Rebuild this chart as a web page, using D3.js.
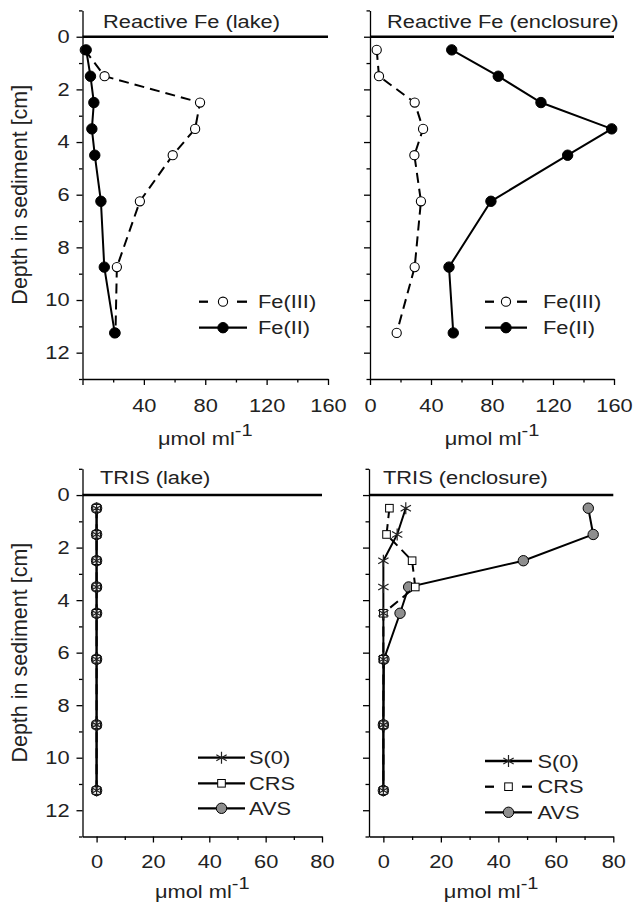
<!DOCTYPE html>
<html>
<head>
<meta charset="utf-8">
<script src="https://cdn.jsdelivr.net/npm/d3@7"></script>
<style>
  body { margin: 0; background: #fff; }
  text { font-family: "Liberation Sans", Arial, sans-serif; fill: #222; }
</style>
</head>
<body>
<svg id="fig" width="635" height="905"></svg>
<script>
// Sample depths (cm) shared by all profiles
var depths = [0.5, 1.5, 2.5, 3.5, 4.5, 6.25, 8.75, 11.25];

// Reactive Fe, umol/ml
var feIIILake = [1.5, 14.4, 76.6, 73.4, 58.8, 37.4, 22.4, 21.5];
var feIILake  = [2.4, 5.2, 7.4, 6.1, 8.0, 12.0, 14.2, 21.0];
var feIIIEncl = [4.4, 5.9, 29.3, 34.8, 29.1, 33.4, 29.3, 17.5];
var feIIEncl  = [53.6, 84.1, 112.1, 158.5, 129.6, 79.3, 51.8, 54.6];

// TRIS extraction, umol/ml
var s0Lake  = [0, 0, 0, 0, 0, 0, 0, 0];
var crsLake = [0, 0, 0, 0, 0, 0, 0, 0];
var avsLake = [0, 0, 0, 0, 0, 0, 0, 0];
var s0Encl  = [7.8, 4.8, 0, 0, 0, 0, 0, 0];
var crsEncl = [2.1, 1.1, 10.0, 11.1, 0, 0, 0, 0];
var avsEncl = [71.3, 73.0, 48.7, 8.8, 5.8, 0.2, 0, 0];

// Axis ticks
var depthTicks = d3.range(-1, 14);
var feTicks = d3.range(0, 161, 20);
var trisTicks = d3.range(0, 81, 10);

var svg = d3.select('#fig');
var SX = 1.18;   // lettering in the original is wider than it is tall
var FS = 18.5;

function hText(parent, x, y, str, anchor) {
    var t = parent.append('text')
        .attr('transform', 'translate(' + x + ',' + y + ') scale(' + SX + ',1)')
        .attr('text-anchor', anchor || 'start')
        .style('font-size', FS + 'px');
    t.text(str);
    return t;
}

function unitLabel(parent, x, y) {
    var t = parent.append('text')
        .attr('transform', 'translate(' + x + ',' + y + ') scale(' + SX + ',1)')
        .attr('text-anchor', 'middle')
        .style('font-size', FS + 'px');
    t.append('tspan').text('\u03bcmol ml');
    t.append('tspan').attr('dy', -9).style('font-size', '17px').text('-1');
}

// Marker drawing
function marker(sel, kind) {
    if (kind === 'open' || kind === 'filled' || kind === 'gray') {
        sel.append('circle')
            .attr('r', kind === 'open' ? 4.6 : 5.2)
            .attr('fill', kind === 'open' ? '#fff' : (kind === 'gray' ? '#8e8e8e' : '#000'))
            .attr('stroke', '#000')
            .attr('stroke-width', kind === 'open' ? 1.1 : 1);
    } else if (kind === 'square') {
        sel.append('rect')
            .attr('x', -3.8).attr('y', -3.8).attr('width', 7.6).attr('height', 7.6)
            .attr('fill', '#fff').attr('stroke', '#000').attr('stroke-width', 1);
    } else if (kind === 'star') {
        sel.append('path')
            .attr('d', d3.symbol().type(d3.symbolAsterisk).size(100)())
            .attr('fill', 'none').attr('stroke', '#222').attr('stroke-width', 1.2);
    }
}

function drawPanel(p) {
    var g = svg.append('g');
    var x = d3.scaleLinear().domain(p.xDomain).range(p.xRange);
    var y = d3.scaleLinear().domain([-1, 13]).range(p.yRange);

    // y axis (depth)
    var ya = g.append('g')
        .attr('transform', 'translate(' + p.xRange[0] + ',0)')
        .call(d3.axisLeft(y).tickValues(depthTicks).tickSize(6).tickSizeOuter(0)
            .tickFormat(function (d) {
                return p.yLabels && d % 2 === 0 && d >= 0 && d <= 12 ? d : '';
            }));
    ya.selectAll('.tick line').attr('x2', function (d) { return d % 2 ? -3.5 : -6; });
    ya.selectAll('.tick text')
        .attr('x', -11)
        .attr('transform', 'scale(' + SX + ',1)')
        .style('font-size', FS + 'px');

    // x axis (concentration)
    var xa = g.append('g')
        .attr('transform', 'translate(0,' + p.yRange[1] + ')')
        .call(d3.axisBottom(x).tickValues(p.xTicks).tickSize(6).tickSizeOuter(0)
            .tickFormat(function (d) { return p.xLabels.indexOf(d) >= 0 ? d : ''; }));
    xa.selectAll('.tick line').attr('y2', function (d) { return d % p.xMajor ? 3.5 : 6; });
    xa.selectAll('.tick text')
        .attr('y', p.tickY).attr('dy', 0)
        .attr('transform', 'scale(' + SX + ',1)')
        .style('font-size', FS + 'px');

    g.selectAll('.domain').attr('stroke-width', 1.3);
    g.selectAll('.tick line').attr('stroke-width', 1.3);

    // sediment surface
    g.append('line')
        .attr('x1', p.xRange[0]).attr('x2', p.xRange[1])
        .attr('y1', y(0)).attr('y2', y(0))
        .attr('stroke', '#000').attr('stroke-width', 2.6);

    // profiles
    p.series.forEach(function (s) {
        var pts = depths.map(function (d, i) { return [s.values[i], d]; });
        g.append('path')
            .datum(pts)
            .attr('fill', 'none')
            .attr('stroke', '#000')
            .attr('stroke-width', 2)
            .attr('stroke-dasharray', s.dash ? '10,6' : null)
            .attr('d', d3.line().x(function (d) { return x(d[0]); }).y(function (d) { return y(d[1]); }));
        var m = g.selectAll(null)
            .data(pts)
            .enter().append('g')
            .attr('transform', function (d) { return 'translate(' + x(d[0]) + ',' + y(d[1]) + ')'; });
        marker(m, s.marker);
    });

    // title and axis labels
    hText(g, p.titleX, p.titleY, p.title);
    unitLabel(g, (p.xRange[0] + p.xRange[1]) / 2, p.unitY);
    if (p.yLabels) {
        g.append('text')
            .attr('transform', 'translate(27,' + (p.yRange[0] + p.yRange[1]) / 2 + ') rotate(-90)')
            .attr('text-anchor', 'middle')
            .style('font-size', '21.5px')
            .text('Depth in sediment [cm]');
    }

    // legend
    var lg = p.legend;
    lg.items.forEach(function (it, i) {
        var ly = lg.ys[i];
        var row = g.append('g');
        if (it.dash) {
            row.append('line').attr('x1', lg.x0).attr('x2', lg.x0 + 9);
            row.append('line').attr('x1', lg.x1 - 10).attr('x2', lg.x1);
        } else {
            row.append('line').attr('x1', lg.x0).attr('x2', lg.x1);
        }
        row.selectAll('line').attr('y1', ly).attr('y2', ly)
            .attr('stroke', '#000').attr('stroke-width', 2.3);
        var mk = row.append('g').attr('transform', 'translate(' + (lg.x0 + lg.x1) / 2 + ',' + ly + ')');
        marker(mk, it.marker);
        hText(row, lg.xt, ly + 6.5, it.name);
    });
}

var feSeries = function (iii, ii) {
    return [
        { values: iii, dash: true, marker: 'open' },
        { values: ii, dash: false, marker: 'filled' }
    ];
};
var trisSeries = function (s0, crs, avs) {
    return [
        { values: avs, dash: false, marker: 'gray' },
        { values: crs, dash: true, marker: 'square' },
        { values: s0, dash: false, marker: 'star' }
    ];
};

drawPanel({
    title: 'Reactive Fe (lake)', titleX: 103, titleY: 27.5,
    xDomain: [0, 160], xRange: [82.5, 328], yRange: [10.4, 379],
    xTicks: feTicks, xMajor: 40, xLabels: [40, 80, 120, 160], tickY: 33, unitY: 445,
    yLabels: true,
    series: feSeries(feIIILake, feIILake),
    legend: {
        x0: 199, x1: 247, xt: 258, ys: [301.7, 327.7],
        items: [{ name: 'Fe(III)', dash: true, marker: 'open' }, { name: 'Fe(II)', dash: false, marker: 'filled' }]
    }
});

drawPanel({
    title: 'Reactive Fe (enclosure)', titleX: 387, titleY: 27.5,
    xDomain: [0, 160], xRange: [370, 614], yRange: [10.4, 379],
    xTicks: feTicks, xMajor: 40, xLabels: [0, 40, 80, 120, 160], tickY: 33, unitY: 445,
    yLabels: false,
    series: feSeries(feIIIEncl, feIIEncl),
    legend: {
        x0: 485, x1: 527, xt: 543, ys: [301.7, 327.7],
        items: [{ name: 'Fe(III)', dash: true, marker: 'open' }, { name: 'Fe(II)', dash: false, marker: 'filled' }]
    }
});

drawPanel({
    title: 'TRIS (lake)', titleX: 100, titleY: 484,
    xDomain: [-5, 80], xRange: [82.5, 322], yRange: [468.8, 836.5],
    xTicks: trisTicks, xMajor: 20, xLabels: [0, 20, 40, 60, 80], tickY: 31.5, unitY: 898,
    yLabels: true,
    series: trisSeries(s0Lake, crsLake, avsLake),
    legend: {
        x0: 198, x1: 245, xt: 249, ys: [757.7, 783.3, 808.3],
        items: [{ name: 'S(0)', dash: false, marker: 'star' },
                { name: 'CRS', dash: false, marker: 'square' },
                { name: 'AVS', dash: false, marker: 'gray' }]
    }
});

drawPanel({
    title: 'TRIS (enclosure)', titleX: 383, titleY: 483.5,
    xDomain: [-5, 80], xRange: [369, 613.3], yRange: [468.8, 836.5],
    xTicks: trisTicks, xMajor: 20, xLabels: [0, 20, 40, 60, 80], tickY: 31.5, unitY: 898,
    yLabels: false,
    series: trisSeries(s0Encl, crsEncl, avsEncl),
    legend: {
        x0: 485, x1: 532, xt: 537.5, ys: [761, 786.7, 812.3],
        items: [{ name: 'S(0)', dash: false, marker: 'star' },
                { name: 'CRS', dash: true, marker: 'square' },
                { name: 'AVS', dash: false, marker: 'gray' }]
    }
});
</script>
</body>
</html>
